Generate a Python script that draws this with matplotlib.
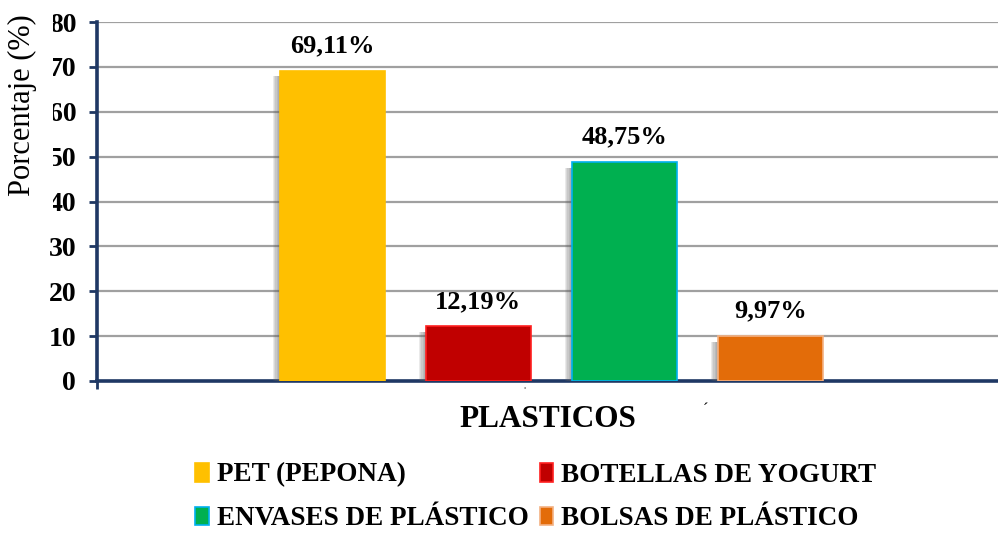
import matplotlib.pyplot as plt
import matplotlib.patheffects as pe
from matplotlib.patches import Patch, Rectangle

plt.rcParams['font.family'] = ['Liberation Serif', 'DejaVu Serif']

# porcentaje de cada tipo de plástico
categorias = ['PET (PEPONA)', 'BOTELLAS DE YOGURT', 'ENVASES DE PLÁSTICO', 'BOLSAS DE PLÁSTICO']
valores = [69.11, 12.19, 48.75, 9.97]
etiquetas = ['69,11%', '12,19%', '48,75%', '9,97%']
colores = ['#FFC000', '#C00000', '#00B050', '#E36C09']
bordes = ['#FFC000', '#FF2020', '#00B0F0', '#F4B183']
yticks = [0, 10, 20, 30, 40, 50, 60, 70, 80]

navy = '#1F3864'

fig = plt.figure(figsize=(9.98, 5.33), dpi=100)
ax = fig.add_axes([0.0972, 0.2852, 0.9028, 0.6735])

# sombra difusa a la izquierda de cada barra
sombra = [pe.SimplePatchShadow(offset=(-d, -4), shadow_rgbFace='#606060', alpha=0.13)
          for d in (1, 2, 3, 4, 5)] + [pe.Normal()]
for i in range(len(valores)):
    b = ax.bar(i, valores[i], width=0.72, color=colores[i], edgecolor=bordes[i],
               linewidth=1.2, zorder=3)
    b[0].set_path_effects(sombra)
    ax.text(i, valores[i] + 3.0, etiquetas[i], ha='center', va='bottom',
            fontsize=19, fontweight='bold', zorder=4)

ax.set_xlim(-1.61, 4.56)
ax.set_ylim(0, 80)
ax.set_yticks(yticks)
ax.set_yticklabels([str(v) for v in yticks], fontsize=20, fontweight='bold')
ax.set_xticks([-1.61])
ax.set_xticklabels([''])
ax.yaxis.grid(True, color='#A0A0A0', linewidth=1.6, zorder=0)
ax.set_axisbelow(True)

for s in ['top', 'right']:
    ax.spines[s].set_visible(False)
for s in ['left', 'bottom']:
    ax.spines[s].set_color(navy)
    ax.spines[s].set_linewidth(2.6)
ax.tick_params(axis='y', direction='out', length=6, width=2, color=navy, pad=9)
ax.tick_params(axis='x', direction='out', length=6, width=2, color=navy)

ax.set_xlabel('PLASTICOS', fontsize=22.5, fontweight='bold', labelpad=8)

# tapa el borde de las etiquetas del eje y
fig.patches.append(Rectangle((0, 1 - 225 / 533), 53 / 998, 225 / 533,
                             transform=fig.transFigure, facecolor='white',
                             edgecolor='none', zorder=2))
fig.text(22 / 998, 1 - 105 / 533, 'Porcentaje (%)', rotation=90, fontsize=22,
         ha='center', va='center', zorder=3)

fig.text(524 / 998, 1 - 393 / 533, 'ˈ', fontsize=9, ha='center', va='center')
fig.text(706 / 998, 1 - 410 / 533, 'ˊ', fontsize=12, ha='center', va='center')

# la leyenda se llena por columnas: se reordena para leer por filas
orden = [0, 2, 1, 3]
handles = [Patch(facecolor=colores[i], edgecolor=bordes[i], linewidth=1.2) for i in orden]
fig.legend(handles, [categorias[i] for i in orden], loc='center',
           bbox_to_anchor=(536 / 998, 1 - 497 / 533),
           ncol=2, frameon=False, handlelength=0.5, handleheight=0.7,
           handletextpad=0.3, columnspacing=0.4, labelspacing=0.7,
           prop={'size': 19.5, 'weight': 'bold'})

fig.savefig('out.png', dpi=100)
